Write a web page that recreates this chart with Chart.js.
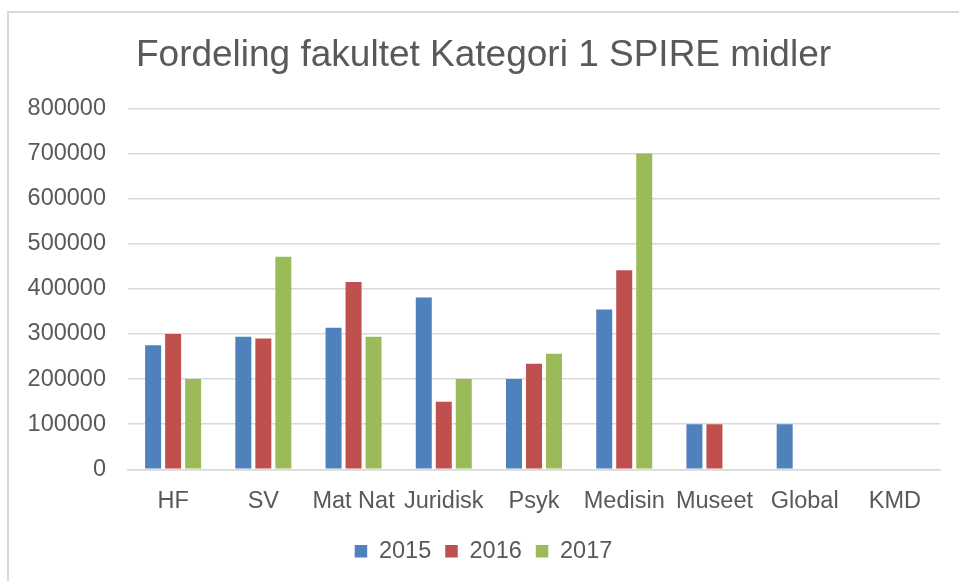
<!DOCTYPE html>
<html>
<head>
<meta charset="utf-8">
<script src="https://cdn.jsdelivr.net/npm/chart.js@4"></script>
<style>
html,body{margin:0;padding:0;background:#fff;overflow:hidden;}
#frame{position:absolute;left:7px;top:11px;width:1000px;height:1000px;border:2px solid #d9d9d9;box-sizing:border-box;}
#wrap{position:absolute;left:0;top:0;width:959px;height:581px;}
</style>
</head>
<body>
<div id="frame"></div>
<div id="wrap"><canvas id="c" width="959" height="581"></canvas></div>
<script>
const categories = ["HF", "SV", "Mat Nat", "Juridisk", "Psyk", "Medisin", "Museet", "Global", "KMD"];
const seriesNames = ["2015", "2016", "2017"];
const values2015 = [275000, 294000, 314000, 381000, 200000, 354000, 100000, 100000, 0];
const values2016 = [300000, 290000, 415000, 150000, 234000, 441000, 100000, 0, 0];
const values2017 = [200000, 471000, 294000, 200000, 256000, 700000, 0, 0, 0];
const yTicks = [0, 100000, 200000, 300000, 400000, 500000, 600000, 700000, 800000];
const titleText = "Fordeling fakultet Kategori 1 SPIRE midler";

const colors = ["#4F81BD", "#C0504D", "#9BBB59"];
const txt = "#595959";
const font = "'Liberation Sans', Arial, sans-serif";

new Chart(document.getElementById("c"), {
  type: "bar",
  data: {
    labels: categories,
    datasets: [values2015, values2016, values2017].map((v, i) => ({
      label: seriesNames[i],
      data: v,
      backgroundColor: colors[i],
      borderWidth: 0,
      categoryPercentage: 0.665,
      barPercentage: 0.8
    }))
  },
  options: {
    responsive: false,
    animation: false,
    devicePixelRatio: 1,
    layout: { padding: { left: 27, right: 19, top: 0, bottom: 8 } },
    plugins: {
      title: {
        display: true,
        text: titleText,
        color: txt,
        font: { family: font, size: 37, weight: "normal" },
        padding: { top: 34, bottom: 30 }
      },
      legend: {
        position: "bottom",
        labels: {
          color: txt,
          font: { family: font, size: 23.5 },
          boxWidth: 12.5,
          boxHeight: 12.5,
          padding: 14
        }
      },
      tooltip: { enabled: false }
    },
    scales: {
      x: {
        grid: { display: false },
        border: { display: true, color: "#d9d9d9", width: 1.5 },
        ticks: {
          color: txt,
          font: { family: font, size: 23.5 },
          maxRotation: 0,
          autoSkip: false,
          padding: 10
        }
      },
      y: {
        min: 0,
        max: 800000,
        afterBuildTicks: s => { s.ticks = yTicks.map(v => ({ value: v })); },
        afterFit: s => { s.width = 101; },
        grid: { color: "#d9d9d9", lineWidth: 1.5, drawTicks: false },
        border: { display: false },
        ticks: {
          color: txt,
          font: { family: font, size: 23.5 },
          padding: 22,
          callback: v => String(v)
        }
      }
    }
  }
});
</script>
</body>
</html>
